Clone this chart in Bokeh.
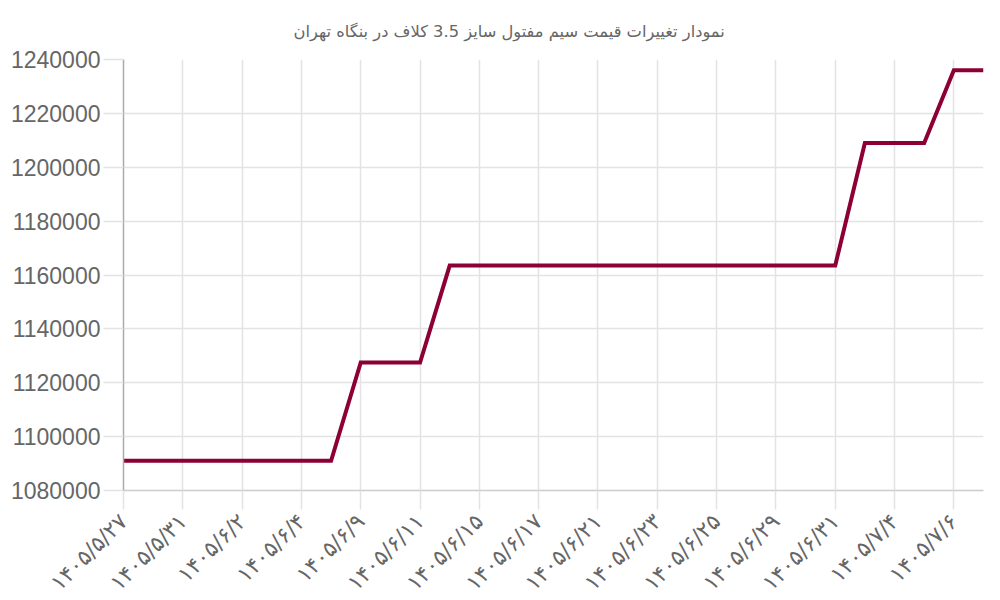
import math

from bokeh.plotting import figure
from bokeh.models import ColumnDataSource, Range1d, FixedTicker, BasicTickFormatter
from bokeh.embed import file_html
from bokeh.resources import INLINE

# Data
title_text = "نمودار تغییرات قیمت سیم مفتول سایز 3.5 کلاف در بنگاه تهران"
point_index = list(range(30))
prices = [
    1091000, 1091000, 1091000, 1091000, 1091000, 1091000, 1091000, 1091000,
    1127500, 1127500, 1127500,
    1163500, 1163500, 1163500, 1163500, 1163500, 1163500, 1163500,
    1163500, 1163500, 1163500, 1163500, 1163500, 1163500, 1163500,
    1209000, 1209000, 1209000,
    1236000, 1236000,
]
tick_positions = [0, 2, 4, 6, 8, 10, 12, 14, 16, 18, 20, 22, 24, 26, 28]
tick_labels = [
    "۱۴۰۵/۵/۲۷", "۱۴۰۵/۵/۳۱", "۱۴۰۵/۶/۲", "۱۴۰۵/۶/۴", "۱۴۰۵/۶/۹",
    "۱۴۰۵/۶/۱۱", "۱۴۰۵/۶/۱۵", "۱۴۰۵/۶/۱۷", "۱۴۰۵/۶/۲۱", "۱۴۰۵/۶/۲۳",
    "۱۴۰۵/۶/۲۵", "۱۴۰۵/۶/۲۹", "۱۴۰۵/۶/۳۱", "۱۴۰۵/۷/۴", "۱۴۰۵/۷/۶",
]
y_ticks = [1080000, 1100000, 1120000, 1140000, 1160000, 1180000, 1200000, 1220000, 1240000]

source = ColumnDataSource(data=dict(x=point_index, price=prices))

p = figure(
    frame_width=860,
    frame_height=431,
    x_range=Range1d(0, 29),
    y_range=Range1d(1080000, 1240000),
    title=title_text,
    toolbar_location=None,
    tools="",
    output_backend="svg",
    min_border_left=123,
    min_border_right=9,
    min_border_top=59,
    min_border_bottom=100,
)

p.line("x", "price", source=source, line_color="#8c0035", line_width=4, line_join="miter")

# Title, centred on the page rather than on the plot frame
p.title.align = "left"
p.title.offset = 170
p.title.text_color = "#666666"
p.title.text_font = "DejaVu Sans"
p.title.text_font_size = "16.3px"
p.title.text_font_style = "normal"
p.title.standoff = 38

# Frame
p.background_fill_color = "white"
p.border_fill_color = "white"
p.outline_line_color = None

# Grid
p.xaxis.ticker = FixedTicker(ticks=tick_positions)
p.yaxis.ticker = FixedTicker(ticks=y_ticks)
p.xgrid.grid_line_color = "#e3e3e3"
p.ygrid.grid_line_color = "#e3e3e3"
p.xgrid.grid_line_width = 1.5
p.ygrid.grid_line_width = 1.5

# X axis
p.xaxis.major_label_overrides = {pos: lab for pos, lab in zip(tick_positions, tick_labels)}
p.xaxis.major_label_orientation = math.pi / 4
p.xaxis.major_label_text_font = "DejaVu Sans"
p.xaxis.major_label_text_font_size = "22px"
p.xaxis.major_label_text_color = "#666666"
p.xaxis.axis_line_color = "#cccccc"
p.xaxis.axis_line_width = 1.5
p.xaxis.major_tick_line_color = "#e3e3e3"
p.xaxis.major_tick_line_width = 1.5
p.xaxis.major_tick_out = 19
p.xaxis.major_tick_in = 0
p.xaxis.minor_tick_line_color = None
p.xaxis.major_label_standoff = 8

# Y axis
p.yaxis.formatter = BasicTickFormatter(use_scientific=False)
p.yaxis.major_label_text_font = "Liberation Sans"
p.yaxis.major_label_text_font_size = "23px"
p.yaxis.major_label_text_color = "#666666"
p.yaxis.axis_line_color = "#aaaaaa"
p.yaxis.axis_line_width = 1.5
p.yaxis.major_tick_line_color = "#e3e3e3"
p.yaxis.major_tick_line_width = 1.5
p.yaxis.major_tick_out = 20
p.yaxis.major_tick_in = 0
p.yaxis.minor_tick_line_color = None
p.yaxis.major_label_standoff = 3

open("out.html", "w").write(file_html(p, INLINE))
